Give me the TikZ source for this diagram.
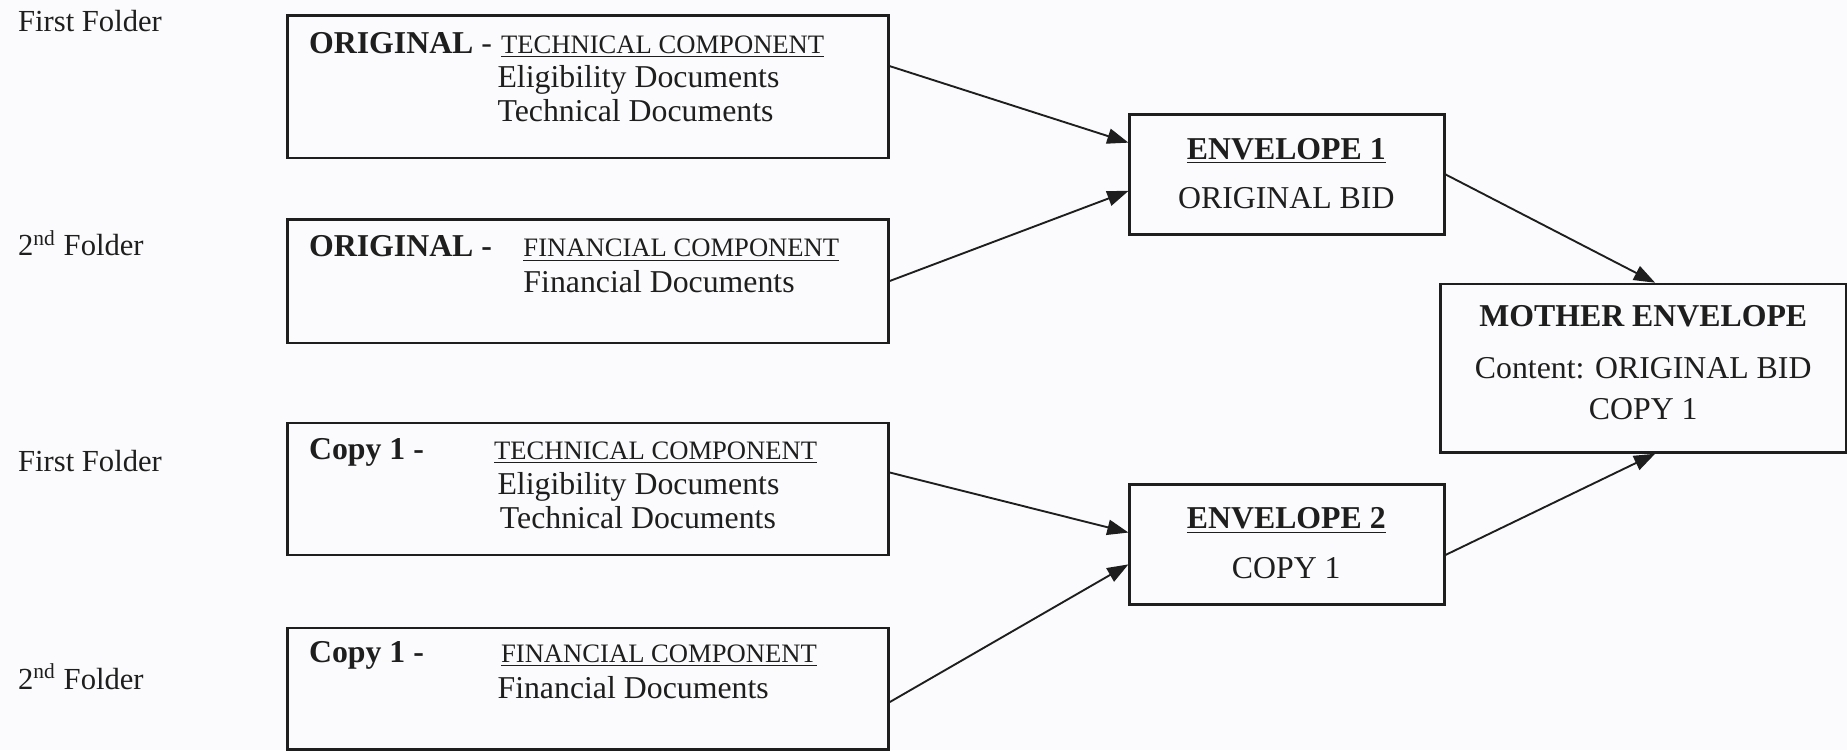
\documentclass[tikz,border=0pt]{standalone}
\usepackage{fontspec}
\setmainfont{Liberation Serif}
\usetikzlibrary{arrows.meta,calc}
\definecolor{bg}{RGB}{251,251,253}
\definecolor{ink}{RGB}{30,30,30}
\begin{document}
\begin{tikzpicture}[x=0.5pt,y=-0.5pt,
  box/.style={draw=ink, line width=1.1pt, inner sep=0pt, anchor=north west},
  txt/.style={anchor=base west, inner sep=0pt, text=ink, font=\fontsize{13.5}{15}\selectfont},
  ctxt/.style={anchor=base, inner sep=0pt, text=ink, font=\fontsize{13.5}{15}\selectfont},
  sm/.style={anchor=base west, inner sep=0pt, text=ink, font=\fontsize{11.3}{13}\selectfont},
  lbl/.style={anchor=base west, inner sep=0pt, text=ink, font=\fontsize{13}{15}\selectfont},
  arr/.style={draw=ink, -{Triangle[length=9pt,width=6.5pt]}, line width=0.8pt}]
\useasboundingbox[fill=bg] (0,0) rectangle (1568,637);

% left labels
\node[lbl] (l1) at (15,27) {First Folder};
\node[lbl] (l2) at (15,217) {2\textsuperscript{nd} Folder};
\node[lbl] (l3) at (15,400) {First Folder};
\node[lbl] (l4) at (15,585) {2\textsuperscript{nd} Folder};

% boxes
\node[box, minimum width=255pt, minimum height=60.5pt] (A) at (243,12) {};
\node[box, minimum width=255pt, minimum height=52.5pt] (B) at (243,185) {};
\node[box, minimum width=255pt, minimum height=56pt] (C) at (243,358) {};
\node[box, minimum width=255pt, minimum height=51.5pt] (D) at (243,532) {};
\node[box, minimum width=133.5pt, minimum height=51pt] (E1) at (958,96) {};
\node[box, minimum width=133.5pt, minimum height=51pt] (E2) at (958,410) {};
\node[box, minimum width=172pt, minimum height=71.5pt] (M) at (1222,240) {};

% box A
\node[txt] (a1) at (262,45) {\textbf{ORIGINAL} -};
\node[sm] (a2) at (425,45) {\underline{TECHNICAL COMPONENT}};
\node[txt] (a3) at (422,74) {Eligibility Documents};
\node[txt] (a4) at (422,103) {Technical Documents};
% box B
\node[txt] (b1) at (262,218) {\textbf{ORIGINAL -}};
\node[sm] (b2) at (444,218) {\underline{FINANCIAL COMPONENT}};
\node[txt] (b3) at (444,248) {Financial Documents};
% box C
\node[txt] (c1) at (262,390) {\textbf{Copy 1 -}};
\node[sm] (c2) at (419,390) {\underline{TECHNICAL COMPONENT}};
\node[txt] (c3) at (422,420) {Eligibility Documents};
\node[txt] (c4) at (424,449) {Technical Documents};
% box D
\node[txt] (d1) at (262,562) {\textbf{Copy 1 -}};
\node[sm] (d2) at (425,562) {\underline{FINANCIAL COMPONENT}};
\node[txt] (d3) at (422,593) {Financial Documents};
% envelopes
\node[ctxt] (e1) at (1092,135) {\textbf{\underline{ENVELOPE 1}}};
\node[ctxt] (e2) at (1092,177) {ORIGINAL BID};
\node[ctxt] (f1) at (1092,449) {\textbf{\underline{ENVELOPE 2}}};
\node[ctxt] (f2) at (1092,491) {COPY 1};
\node[ctxt] (m1) at (1395,277) {\textbf{MOTHER ENVELOPE}};
\node[ctxt] (m2) at (1395,321) {Content: ORIGINAL BID};
\node[ctxt] (m3) at (1395,356) {COPY 1};

% connectors
\draw[arr] ([yshift=8.75pt]A.east) -- ([yshift=13.5pt]E1.west);
\draw[arr] (B.east) -- ([yshift=-7pt]E1.west);
\draw[arr] (E1.east) -- ([xshift=5pt]M.north);
\draw[arr] ([yshift=7pt]C.east) -- ([yshift=5pt]E2.west);
\draw[arr] ([yshift=-5.75pt]D.east) -- ([yshift=-8.5pt]E2.west);
\draw[arr] ([yshift=-4.5pt]E2.east) -- ([xshift=5pt]M.south);
\end{tikzpicture}
\end{document}
